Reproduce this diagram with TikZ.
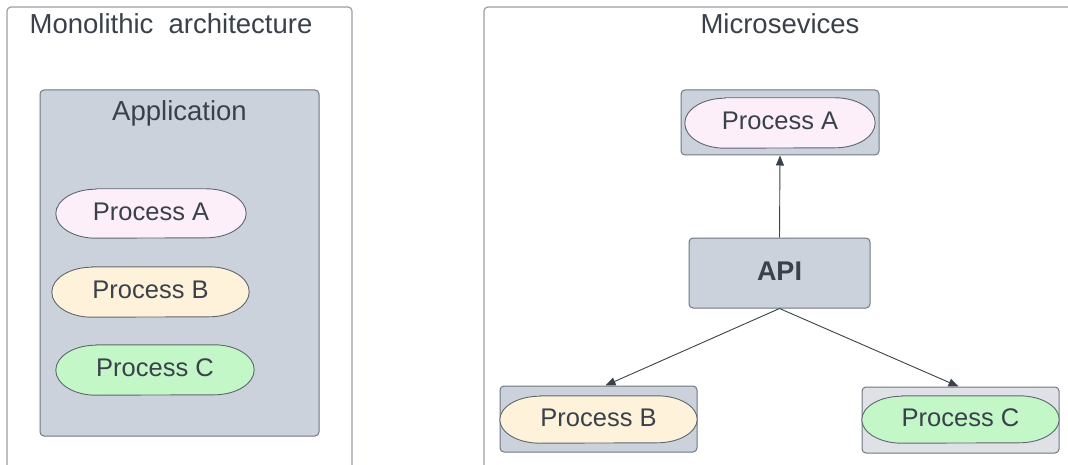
\documentclass[tikz,border=0pt]{standalone}
\usepackage{fontspec}
\setmainfont{Liberation Sans}
\usetikzlibrary{arrows.meta}

\definecolor{ink}{HTML}{3A414A}
\definecolor{frameline}{HTML}{9A9EA5}
\definecolor{boxline}{HTML}{707780}
\definecolor{capline}{HTML}{5F6670}
\definecolor{slate}{HTML}{CBD2DB}
\definecolor{paleslate}{HTML}{DFE1E6}
\definecolor{pink}{HTML}{FDEFFA}
\definecolor{cream}{HTML}{FEF2DA}
\definecolor{mint}{HTML}{C3F7C8}

\tikzset{
  frame/.style={draw=frameline, line width=1.2pt, fill=white, rounded corners=4pt},
  container/.style={draw=boxline, line width=1pt, rounded corners=4pt, inner sep=0pt},
  title/.style={text=ink, font=\fontsize{27.5}{31}\selectfont, inner sep=0pt},
  label/.style={text=ink, font=\fontsize{25.5}{29}\selectfont, inner sep=0pt},
  apilabel/.style={text=ink, font=\fontsize{27}{31}\selectfont\bfseries, inner sep=0pt},
  link/.style={draw=ink, line width=0.9pt, -{Triangle[length=10pt,width=8pt]}},
}

% capsule: name, centre, width, height, fill, text
\newcommand\capsule[6]{%
  \node[minimum width=#3, minimum height=#4, inner sep=0pt] (#1) at (#2) {};
  \draw[draw=capline, line width=0.9pt, fill=#5]
    ([xshift=40pt]#1.north west) -- ([xshift=-40pt]#1.north east)
    arc[start angle=90, end angle=-90, x radius=40pt, y radius=#4/2]
    -- ([xshift=40pt]#1.south west)
    arc[start angle=270, end angle=90, x radius=40pt, y radius=#4/2] -- cycle;
  \node[label] (#1-text) at ([yshift=2pt]#1.center) {#6};
}

\begin{document}
\begin{tikzpicture}[x=1pt, y=1pt]
  \useasboundingbox (0,0) rectangle (1068,-465);
  \begin{scope}
    \clip (0,0) rectangle (1068,-465);

    % ---------- monolithic side ----------
    \draw[frame] (7,-480) -- (7,-7) -- (352,-7) -- (352,-480);
    \node[title] (monotitle) at (171,-24) {Monolithic\ \ architecture};

    \node[container, fill=slate, minimum width=279pt, minimum height=346pt] (app) at (179.5,-263) {};
    \node[title] (apptitle) at (179.5,-113) {Application};

    \capsule{monoA}{151,-213.5}{190pt}{49pt}{pink}{Process A}
    \capsule{monoB}{150.5,-292}{197pt}{50pt}{cream}{Process B}
    \capsule{monoC}{155,-370}{198pt}{50pt}{mint}{Process C}

    % ---------- microservices side ----------
    \draw[frame] (484,-480) -- (484,-7) -- (1080,-7);
    \node[title] (microtitle) at (780,-24) {Microsevices};

    \node[container, fill=slate, minimum width=198pt, minimum height=65pt] (boxA) at (780,-122.5) {};
    \capsule{svcA}{780,-123}{190pt}{50pt}{pink}{Process A}

    \node[container, fill=slate, minimum width=181pt, minimum height=70pt] (api) at (779.5,-273) {};
    \node[apilabel] (apitext) at (779.5,-271) {API};

    \node[container, fill=slate, minimum width=197pt, minimum height=66pt] (boxB) at (598.5,-419) {};
    \capsule{svcB}{598.5,-419.5}{197pt}{47pt}{cream}{Process B}

    \node[container, fill=paleslate, minimum width=197pt, minimum height=66pt] (boxC) at (960.5,-420) {};
    \capsule{svcC}{960.5,-419.5}{197pt}{47pt}{mint}{Process C}

    % ---------- connectors ----------
    \draw[link] (api.north) -- (boxA.south);
    \draw[link] (api.south) -- ([xshift=7pt]boxB.north);
    \draw[link] (api.south) -- ([xshift=-2pt]boxC.north);
  \end{scope}
\end{tikzpicture}
\end{document}
